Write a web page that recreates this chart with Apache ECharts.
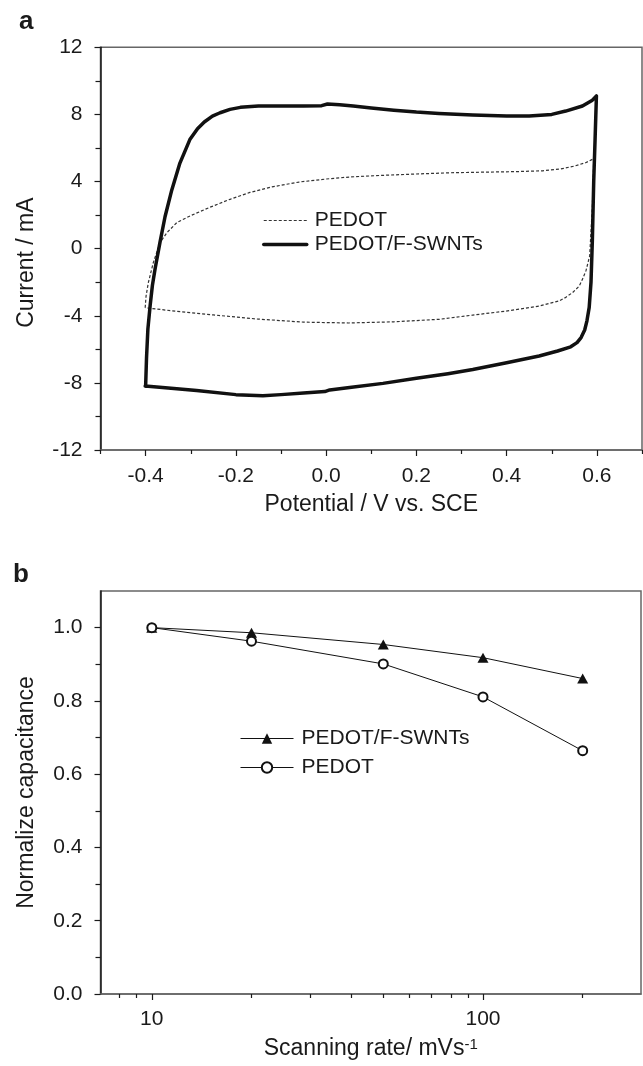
<!DOCTYPE html>
<html>
<head>
<meta charset="utf-8">
<script src="https://cdn.jsdelivr.net/npm/echarts@6/dist/echarts.min.js"></script>
<style>
  html, body { margin: 0; padding: 0; background: #fff; }
  #chart { width: 643px; height: 1066px; }
</style>
</head>
<body>
<div id="chart"></div>
<script>
// (a) cyclic voltammograms, potential in V, current in mA
const pedotPotential = [-0.401, -0.399, -0.394, -0.383, -0.368, -0.353, -0.331, -0.300, -0.260, -0.213, -0.169, -0.120, -0.060, 0.000, 0.052, 0.126, 0.200, 0.273, 0.350, 0.420, 0.480, 0.520, 0.550, 0.575, 0.593, 0.590, 0.584, 0.576, 0.568, 0.561, 0.546, 0.530, 0.516, 0.472, 0.399, 0.325, 0.251, 0.150, 0.050, -0.050, -0.150, -0.250, -0.330, -0.401];
const pedotCurrent = [-3.52, -2.82, -2.03, -0.83, 0.36, 0.95, 1.55, 1.97, 2.44, 2.94, 3.35, 3.68, 3.97, 4.15, 4.27, 4.37, 4.45, 4.52, 4.56, 4.59, 4.64, 4.75, 4.92, 5.12, 5.36, 2.5, -0.44, -1.3, -1.83, -2.23, -2.62, -2.92, -3.12, -3.42, -3.72, -3.96, -4.21, -4.36, -4.43, -4.38, -4.2, -3.95, -3.74, -3.52];
const compositePotential = [-0.400, -0.398, -0.395, -0.390, -0.385, -0.379, -0.368, -0.357, -0.342, -0.324, -0.302, -0.285, -0.270, -0.252, -0.235, -0.213, -0.190, -0.150, -0.100, -0.050, -0.010, 0.003, 0.030, 0.060, 0.100, 0.150, 0.200, 0.250, 0.325, 0.400, 0.450, 0.500, 0.531, 0.568, 0.590, 0.599, 0.596, 0.593, 0.590, 0.587, 0.583, 0.578, 0.573, 0.565, 0.556, 0.542, 0.513, 0.472, 0.400, 0.325, 0.270, 0.200, 0.126, 0.052, 0.008, -0.003, -0.050, -0.100, -0.140, -0.200, -0.287, -0.350, -0.401];
const compositeCurrent = [-8.20, -6.5, -4.8, -3.4, -2.2, -1.2, 0.4, 1.9, 3.5, 5.1, 6.5, 7.15, 7.55, 7.9, 8.1, 8.3, 8.42, 8.5, 8.5, 8.5, 8.52, 8.62, 8.58, 8.5, 8.38, 8.25, 8.14, 8.06, 7.96, 7.9, 7.9, 8.0, 8.2, 8.5, 8.85, 9.1, 6.5, 4.0, 0.5, -2.0, -3.5, -4.3, -4.85, -5.3, -5.6, -5.85, -6.1, -6.4, -6.8, -7.2, -7.45, -7.73, -8.03, -8.28, -8.42, -8.52, -8.6, -8.7, -8.76, -8.7, -8.45, -8.3, -8.19];

// (b) normalized capacitance vs scan rate
const scanRates = [10, 20, 50, 100, 200];
const compositeCapacitance = [1.0, 0.986, 0.954, 0.918, 0.861];
const pedotCapacitance = [1.0, 0.963, 0.901, 0.811, 0.664];

// tick positions
const potentialTicks = [-0.4, -0.2, 0, 0.2, 0.4, 0.6];
const potentialMinorTicks = [-0.5, -0.3, -0.1, 0.1, 0.3, 0.5, 0.7];
const rateTicks = [10, 100];
const rateMinorTicks = [8, 9, 20, 30, 40, 50, 60, 70, 80, 90, 200];
const capacitanceTicks = [0, 0.2, 0.4, 0.6, 0.8, 1.0];

const zip = (xs, ys) => xs.map((x, i) => [x, ys[i]]);

const font = "'Liberation Sans', Arial, Helvetica, sans-serif";
const ink = '#1a1a1a';
const labelStyle = { fontSize: 21, color: ink, fontFamily: font };
const nameStyle = { fontSize: 23, color: ink, fontFamily: font };
// legend entries of the CV plot show only the line sample
const lineOnly = { opacity: 0 };

const chart = echarts.init(document.getElementById('chart'), null, { renderer: 'canvas' });

chart.setOption({
  animation: false,
  backgroundColor: '#fff',
  title: [
    { text: 'a', left: 19, top: 9, padding: 0, textStyle: { fontSize: 26, fontWeight: 'bold', color: ink, fontFamily: font } },
    { text: 'b', left: 13, top: 562, padding: 0, textStyle: { fontSize: 26, fontWeight: 'bold', color: ink, fontFamily: font } }
  ],
  grid: [
    { left: 100.5, right: 1, top: 47.3, bottom: 616, show: true, borderColor: '#666', borderWidth: 1.5 },
    { left: 100.5, right: 2, top: 591, bottom: 72, show: true, borderColor: '#666', borderWidth: 1.5 }
  ],
  legend: [
    {
      orient: 'vertical', left: 262, top: 210, padding: 0,
      itemWidth: 43, itemHeight: 12, itemGap: 3,
      data: [
        { name: 'PEDOT', itemStyle: lineOnly, lineStyle: { width: 1.2 } },
        { name: 'PEDOT/F-SWNTs', itemStyle: lineOnly, lineStyle: { width: 3.5 } }
      ],
      textStyle: { fontSize: 21, color: ink, fontFamily: font, padding: [0, 0, 0, 3] }
    },
    {
      orient: 'vertical', left: 240, top: 728, padding: 0,
      itemWidth: 53, itemHeight: 13, itemGap: 8,
      data: [
        { name: 'PEDOT/F-SWNTs (b)', lineStyle: { width: 1 } },
        { name: 'PEDOT (b)', lineStyle: { width: 1 } }
      ],
      formatter: name => name.replace(' (b)', ''),
      textStyle: { fontSize: 21, color: ink, fontFamily: font, padding: [0, 0, 0, 3] }
    }
  ],
  xAxis: [
    {
      gridIndex: 0, type: 'value', min: -0.5, max: 0.7, position: 'bottom',
      axisLine: { onZero: false, lineStyle: { color: '#666', width: 1.5 } },
      axisTick: { customValues: potentialTicks, length: 6, lineStyle: { color: ink, width: 1.2 } },
      axisLabel: Object.assign({ customValues: potentialTicks, margin: 16, formatter: v => v.toFixed(1) }, labelStyle),
      splitLine: { show: false },
      name: 'Potential / V vs. SCE', nameLocation: 'middle', nameGap: 43, nameTextStyle: nameStyle
    },
    {
      gridIndex: 0, type: 'value', min: -0.5, max: 0.7, position: 'bottom',
      axisLine: { show: false, onZero: false },
      axisTick: { customValues: potentialMinorTicks, length: 4, lineStyle: { color: ink, width: 1.2 } },
      axisLabel: { show: false },
      splitLine: { show: false }
    },
    {
      gridIndex: 1, type: 'log', logBase: 10, min: 7, max: 300, position: 'bottom',
      axisLine: { onZero: false, lineStyle: { color: '#666', width: 1.5 } },
      axisTick: { customValues: rateTicks, length: 6, lineStyle: { color: ink, width: 1.2 } },
      axisLabel: Object.assign({ customValues: rateTicks, margin: 15, formatter: v => String(v) }, labelStyle),
      splitLine: { show: false },
      name: 'Scanning rate/ mVs{sup|-1}', nameLocation: 'middle', nameGap: 43,
      nameTextStyle: Object.assign({ rich: { sup: { fontSize: 15, verticalAlign: 'top', color: ink, fontFamily: font, padding: [0, 0, 8, 0] } } }, nameStyle)
    },
    {
      gridIndex: 1, type: 'log', logBase: 10, min: 7, max: 300, position: 'bottom',
      axisLine: { show: false, onZero: false },
      axisTick: { customValues: rateMinorTicks, length: 4, lineStyle: { color: ink, width: 1.2 } },
      axisLabel: { show: false },
      splitLine: { show: false }
    }
  ],
  yAxis: [
    {
      gridIndex: 0, type: 'value', min: -12, max: 12, interval: 4,
      axisLine: { onZero: false, lineStyle: { color: ink, width: 1.5 } },
      axisTick: { length: 6, lineStyle: { color: ink, width: 1.2 } },
      minorTick: { show: true, splitNumber: 2, length: 5, lineStyle: { color: ink, width: 1.2 } },
      axisLabel: Object.assign({ margin: 18 }, labelStyle),
      splitLine: { show: false },
      name: 'Current / mA', nameLocation: 'middle', nameGap: 62,
      nameTextStyle: Object.assign({ padding: [0, 28, 0, 0] }, nameStyle)
    },
    {
      gridIndex: 1, type: 'value', min: 0, max: 1.1, interval: 0.2,
      axisLine: { onZero: false, lineStyle: { color: ink, width: 1.5 } },
      axisTick: { customValues: capacitanceTicks, length: 6, lineStyle: { color: ink, width: 1.2 } },
      minorTick: { show: true, splitNumber: 2, length: 5, lineStyle: { color: ink, width: 1.2 } },
      axisLabel: Object.assign({ customValues: capacitanceTicks, margin: 18, formatter: v => v.toFixed(1) }, labelStyle),
      splitLine: { show: false },
      name: 'Normalize capacitance', nameLocation: 'middle', nameGap: 62, nameTextStyle: nameStyle
    }
  ],
  series: [
    {
      name: 'PEDOT', type: 'line', xAxisIndex: 0, yAxisIndex: 0,
      data: zip(pedotPotential, pedotCurrent),
      symbol: 'none', showSymbol: false,
      itemStyle: { color: '#333' },
      lineStyle: { color: '#333', width: 1.2, type: [3, 2] }
    },
    {
      name: 'PEDOT/F-SWNTs', type: 'line', xAxisIndex: 0, yAxisIndex: 0,
      data: zip(compositePotential, compositeCurrent),
      symbol: 'none', showSymbol: false,
      itemStyle: { color: '#111' },
      lineStyle: { color: '#111', width: 3.5, join: 'round', cap: 'round' }
    },
    {
      name: 'PEDOT/F-SWNTs (b)', type: 'line', xAxisIndex: 2, yAxisIndex: 1,
      data: zip(scanRates, compositeCapacitance),
      symbol: 'triangle', symbolSize: [11, 10],
      itemStyle: { color: '#111' },
      lineStyle: { color: '#111', width: 1 }
    },
    {
      name: 'PEDOT (b)', type: 'line', xAxisIndex: 2, yAxisIndex: 1,
      data: zip(scanRates, pedotCapacitance),
      symbol: 'emptyCircle', symbolSize: 9,
      itemStyle: { color: '#111', borderWidth: 1 },
      lineStyle: { color: '#111', width: 1 }
    }
  ]
});
</script>
</body>
</html>
